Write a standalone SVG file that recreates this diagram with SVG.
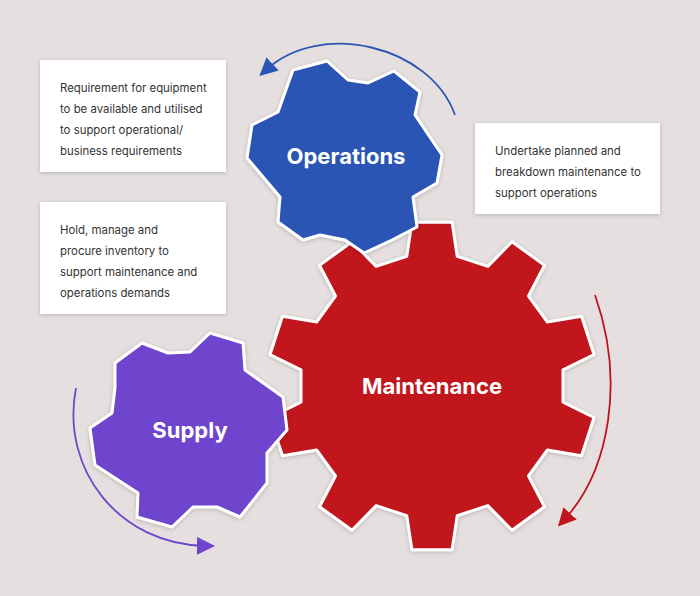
<svg xmlns="http://www.w3.org/2000/svg" width="700" height="596" viewBox="0 0 700 596">
<defs>
<filter id="sh" x="-10%" y="-10%" width="120%" height="120%"><feDropShadow dx="0" dy="1" stdDeviation="2" flood-opacity="0.2"/></filter>
<marker id="mb" markerWidth="18" markerHeight="18" refX="8" refY="8" orient="auto" markerUnits="userSpaceOnUse" viewBox="0 0 16 16"><path d="M0,0 L16,8 L0,16 Z" fill="#2a55b5"/></marker>
<marker id="mr" markerWidth="18" markerHeight="18" refX="8" refY="8" orient="auto" markerUnits="userSpaceOnUse" viewBox="0 0 16 16"><path d="M0,0 L16,8 L0,16 Z" fill="#c0141c"/></marker>
<marker id="mp" markerWidth="18" markerHeight="18" refX="8" refY="8" orient="auto" markerUnits="userSpaceOnUse" viewBox="0 0 16 16"><path d="M0,0 L16,8 L0,16 Z" fill="#6e45cc"/></marker>
</defs>
<style>
.box{fill:#fff;filter:url(#sh)}
.t{font-family:Inter,"Liberation Sans",sans-serif;font-size:11.4px;fill:#333}
.g{stroke:#fff;stroke-width:3;stroke-linejoin:round;filter:url(#sh)}
.gl{font-family:Inter,"Liberation Sans",sans-serif;font-size:22px;font-weight:700;fill:#fff;text-anchor:middle}
.c{fill:none;stroke-width:1.8}
</style>
<rect width="700" height="596" fill="#e5dfdf"/>
<g id="connectors">
<path class="c" stroke="#2a55b5" d="M455,115 C430,45 320,20 266,70" marker-end="url(#mb)"/>
<path class="c" stroke="#c0141c" d="M595,295 C625,380 610,470 564,520" marker-end="url(#mr)"/>
<path class="c" stroke="#6e45cc" d="M76,388 C60,470 120,545 206,546" marker-end="url(#mp)"/>
</g>
<g id="box1"><rect class="box" x="40" y="60" width="186" height="112"/>
<text class="t" x="60" y="92">Requirement for equipment</text>
<text class="t" x="60" y="113">to be available and utilised</text>
<text class="t" x="60" y="134">to support operational/</text>
<text class="t" x="60" y="155">business requirements</text></g>
<g id="box2"><rect class="box" x="40" y="202" width="186" height="112"/>
<text class="t" x="60" y="234">Hold, manage and</text>
<text class="t" x="60" y="255">procure inventory to</text>
<text class="t" x="60" y="276">support maintenance and</text>
<text class="t" x="60" y="297">operations demands</text></g>
<g id="box3"><rect class="box" x="475" y="123" width="185" height="91"/>
<text class="t" x="495" y="155">Undertake planned and</text>
<text class="t" x="495" y="176">breakdown maintenance to</text>
<text class="t" x="495" y="197">support operations</text></g>
<g id="maintenance">
<polygon class="g" fill="#c0141c" points="406.8,256.4 411.9,222.2 452.1,222.2 457.2,256.4 487.8,266.4 512,241.7 544.5,265.3 528.5,296 547.4,322 581.5,316.3 594,354.5 563,369.9 563,402.1 594,417.5 581.5,455.7 547.4,450 528.5,476 544.5,506.7 512,530.3 487.8,505.6 457.2,515.6 452.1,549.8 411.9,549.8 406.8,515.6 376.2,505.6 352,530.3 319.5,506.7 335.5,476 316.6,450 282.5,455.7 270,417.5 301,402.1 301,369.9 270,354.5 282.5,316.3 316.6,322 335.5,296 319.5,265.3 352,241.7 376.2,266.4"/>
<text class="gl" x="432" y="394">Maintenance</text></g>
<g id="operations">
<polygon class="g" fill="#2a55b5" points="293,70 327,61 348,80 368,83 394,71 420,92 415,115 442,155 437,183 413,197 417,227 392,240 364,253 345,240 320,235 303,240 278,222 280,197 247,158 252,125 278,112"/>
<text class="gl" x="346" y="164">Operations</text></g>
<g id="supply">
<polygon class="g" fill="#6e45cc" points="115,363 142,343 168,353 190,352 210,333 243,343 245,370 283,397 287,430 267,453 267,483 240,517 217,507 193,507 172,527 137,517 138,493 95,465 90,428 112,413 115,388"/>
<text class="gl" x="190" y="438">Supply</text></g>
</svg>
